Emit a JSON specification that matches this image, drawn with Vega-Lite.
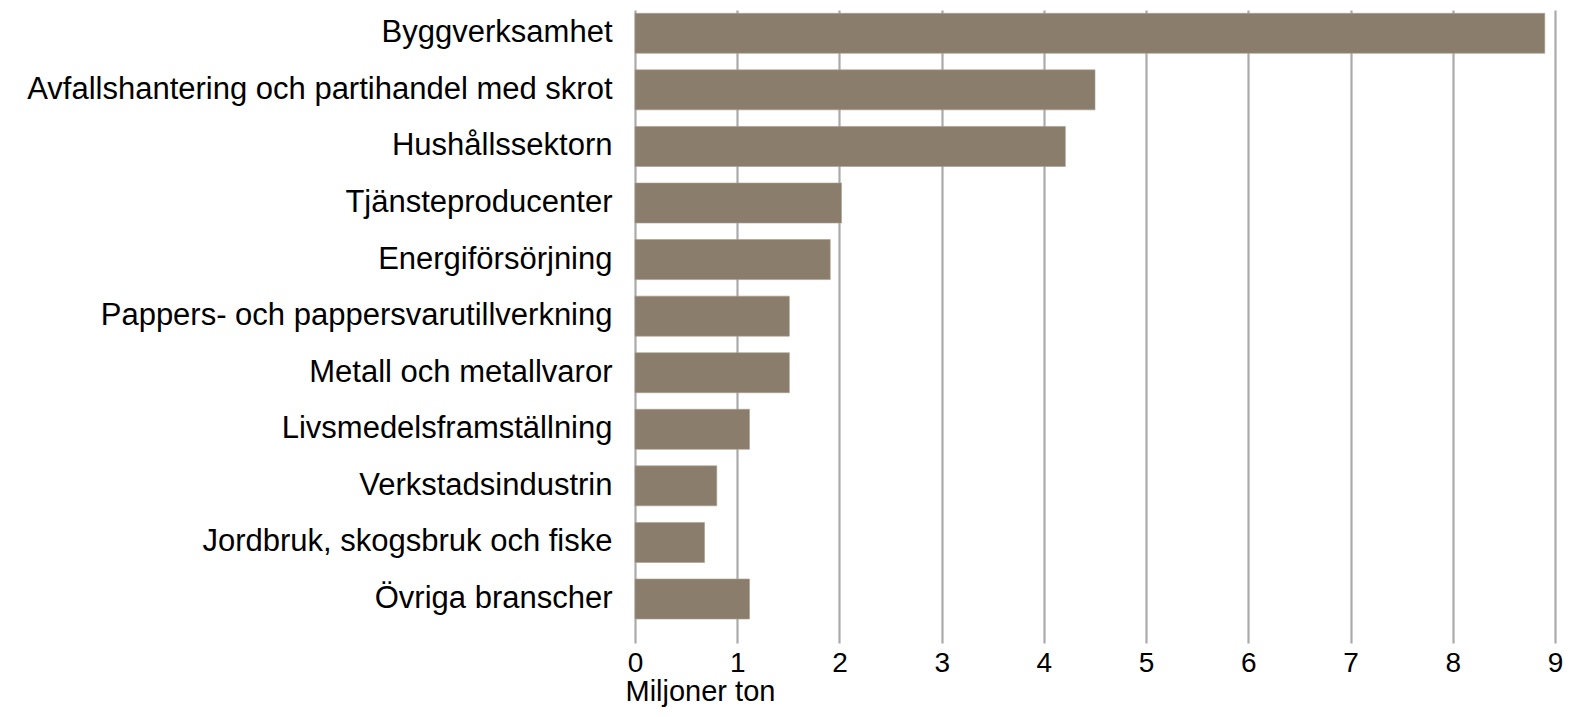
{
  "$schema": "https://vega.github.io/schema/vega-lite/v6.json",
  "autosize": {"type": "none"},
  "padding": {"left": 635, "top": 10, "right": 14, "bottom": 64},
  "width": 920,
  "height": 633,
  "background": "white",
  "data": {
    "values": [
      {"bransch": "Byggverksamhet", "varde": 8.9},
      {"bransch": "Avfallshantering och partihandel med skrot", "varde": 4.5},
      {"bransch": "Hushållssektorn", "varde": 4.21},
      {"bransch": "Tjänsteproducenter", "varde": 2.02},
      {"bransch": "Energiförsörjning", "varde": 1.91},
      {"bransch": "Pappers- och pappersvarutillverkning", "varde": 1.51},
      {"bransch": "Metall och metallvaror", "varde": 1.51},
      {"bransch": "Livsmedelsframställning", "varde": 1.12},
      {"bransch": "Verkstadsindustrin", "varde": 0.8},
      {"bransch": "Jordbruk, skogsbruk och fiske", "varde": 0.68},
      {"bransch": "Övriga branscher", "varde": 1.12}
    ]
  },
  "mark": {"type": "bar", "color": "#8a7d6b", "stroke": "#a89e8f", "strokeWidth": 0.6},
  "encoding": {
    "y": {
      "field": "bransch",
      "type": "nominal",
      "sort": null,
      "scale": {"paddingInner": 0.293, "paddingOuter": 0.2413, "align": 0.121},
      "axis": {
        "title": null,
        "domain": false,
        "ticks": false,
        "grid": false,
        "labelFont": "Liberation Sans",
        "labelFontSize": 31,
        "labelColor": "#000000",
        "labelPadding": 23,
        "labelLimit": 0
      }
    },
    "x": {
      "field": "varde",
      "type": "quantitative",
      "scale": {"domain": [0, 9], "nice": false},
      "axis": {
        "title": "Miljoner ton",
        "values": [0, 1, 2, 3, 4, 5, 6, 7, 8, 9],
        "domain": false,
        "ticks": false,
        "grid": true,
        "gridColor": "#aaaaaa",
        "gridWidth": 2.2,
        "gridOpacity": 1,
        "labelFont": "Liberation Sans",
        "labelFontSize": 28,
        "labelColor": "#000000",
        "labelPadding": 6,
        "labelFlush": false,
        "labelOverlap": false,
        "titleFont": "Liberation Sans",
        "titleFontSize": 29,
        "titleFontWeight": "normal",
        "titleColor": "#000000",
        "titleAnchor": "start",
        "titleAlign": "left",
        "titleBaseline": "top",
        "titleX": -10,
        "titleY": 34
      }
    }
  },
  "config": {"view": {"stroke": null}}
}
